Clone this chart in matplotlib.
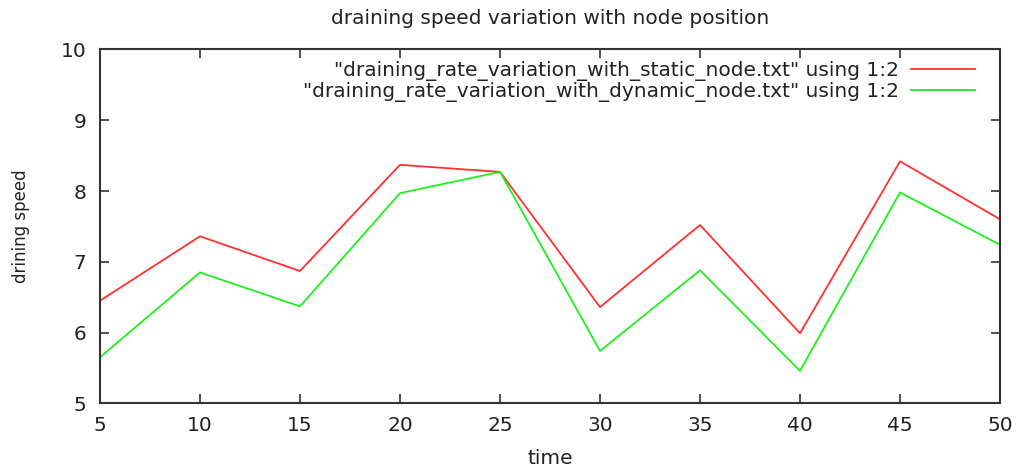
import matplotlib
matplotlib.use("Agg")
import matplotlib.pyplot as plt

time = [5, 10, 15, 20, 25, 30, 35, 40, 45, 50]
static_speed = [6.45, 7.36, 6.87, 8.37, 8.27, 6.36, 7.52, 5.99, 8.42, 7.60]
dynamic_speed = [5.65, 6.85, 6.37, 7.97, 8.27, 5.74, 6.88, 5.46, 7.98, 7.24]
labels = ['"draining_rate_variation_with_static_node.txt" using 1:2',
          '"draining_rate_variation_with_dynamic_node.txt" using 1:2']
xticks = [5, 10, 15, 20, 25, 30, 35, 40, 45, 50]
yticks = [5, 6, 7, 8, 9, 10]

txt = '#222222'
fs = 14.5
fig = plt.figure(figsize=(10.19, 4.69), dpi=100)
ax = fig.add_axes([0.0981, 0.140, 0.8833, 0.7545])
ax.plot(time, static_speed, color='#ff3030', lw=1.3, label=labels[0])
ax.plot(time, dynamic_speed, color='#20ee20', lw=1.3, label=labels[1])
ax.set_xlim(5, 50)
ax.set_ylim(5, 10)
ax.set_xticks(xticks)
ax.set_yticks(yticks)
ax.tick_params(axis='both', direction='in', length=6.5, width=1.2, top=True, right=True,
               labelsize=fs, colors='#333333', labelcolor=txt)
ax.tick_params(axis='x', pad=9)
ax.tick_params(axis='y', pad=10)
for s in ax.spines.values():
    s.set_color('#333333')
    s.set_linewidth(1.5)
ax.set_title('draining speed variation with node position', fontsize=fs,
             color=txt, pad=18)
ax.set_xlabel('time', fontsize=fs, color=txt, labelpad=10)
ax.set_ylabel('drining speed', fontsize=12, color=txt, labelpad=22)
leg = ax.legend(loc='upper right', frameon=False, markerfirst=False,
                fontsize=fs, handlelength=3.2, handletextpad=0.6,
                labelspacing=0.05, borderaxespad=0.3, bbox_to_anchor=(0.988, 1.006))
for t in leg.get_texts():
    t.set_color(txt)
fig.savefig('out.png', dpi=100)
